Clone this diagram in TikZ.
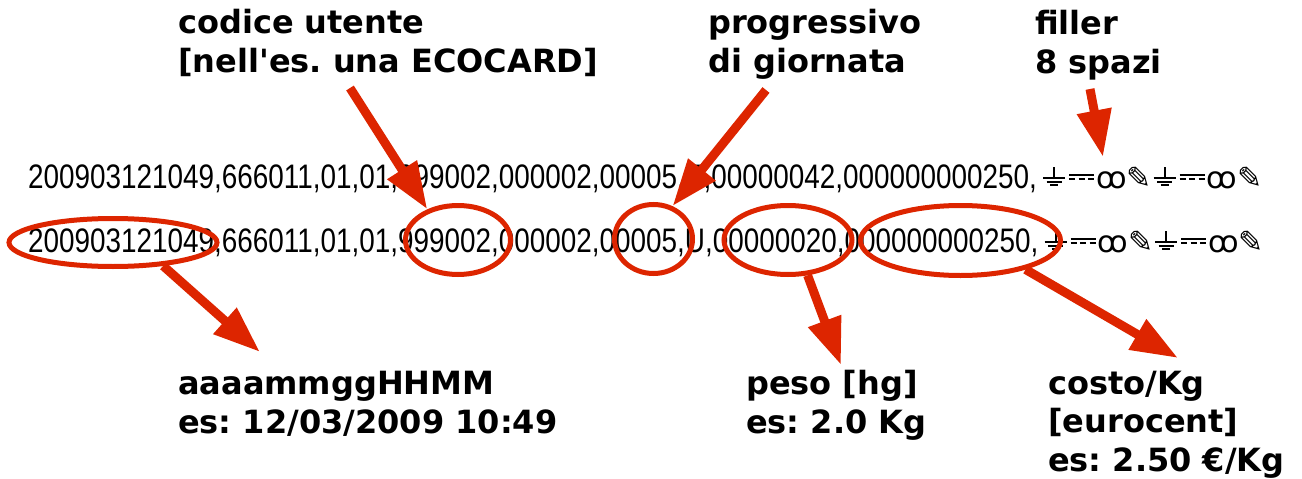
\documentclass[tikz,border=0pt]{standalone}
\usepackage{fontspec}
\setmainfont{DejaVu Sans}
\newfontfamily\datafont[FakeStretch=0.82]{Liberation Sans}
\newfontfamily\simboli{DejaVu Sans}
\usetikzlibrary{arrows.meta,shapes.geometric}
\definecolor{rosso}{RGB}{221,37,0}
% simboli del riempitivo senza glifo: disegnati con filetti
\newcommand{\terra}{\kern2pt\rlap{\kern10pt\rule[9pt]{2pt}{12pt}}\rlap{\rule[9pt]{22pt}{2pt}}\rlap{\kern3.5pt\rule[5.5pt]{15pt}{2pt}}\kern7pt\rule[2pt]{8pt}{2pt}\kern7pt}
\newcommand{\continua}{\kern4pt\rlap{\rule[12pt]{25pt}{2pt}}\rule[8pt]{6pt}{2pt}\kern3.5pt\rule[8pt]{6pt}{2pt}\kern3.5pt\rule[8pt]{6pt}{2pt}\kern2pt}
\newcommand{\gruppo}{\terra\continua{\simboli\fontsize{30}{34}\selectfont ꝏ}{\simboli\fontsize{30}{34}\selectfont ✎}}
\newcommand{\riempi}{\kern4pt\gruppo\gruppo}
\tikzset{
  record/.style={anchor=base west,inner sep=0pt,font=\datafont\fontsize{34}{40}\selectfont},
  didascalia/.style={anchor=base west,inner sep=0pt,align=left,font=\bfseries\frenchspacing\fontsize{32}{38.5}\selectfont},
  cerchio/.style={ellipse,draw=rosso,line width=5pt,inner sep=0pt},
  freccia/.style={draw=rosso,line width=9pt,-{Triangle[length=47pt,width=33pt]}}
}
\begin{document}
\begin{tikzpicture}[x=1pt,y=-1pt]
\useasboundingbox (0,0) rectangle (1302,479);
% righe del file
\node[record] (riga1) at (28,188) {200903121049,666011,01,01,999002,000002,00005,E,00000042,000000000250,\riempi};
\node[record] (riga2) at (28,252) {200903121049,666011,01,01,999002,000002,00005,U,00000020,000000000250,\riempi};
% campi cerchiati
\node[cerchio,minimum width=208pt,minimum height=48pt] (eData) at (113,242.5) {};
\node[cerchio,minimum width=105pt,minimum height=69pt] (eUtente) at (458,240) {};
\node[cerchio,minimum width=78pt,minimum height=69pt] (eProg) at (653.5,239) {};
\node[cerchio,minimum width=128pt,minimum height=69pt] (ePeso) at (788,240) {};
\node[cerchio,minimum width=200pt,minimum height=70pt] (eCosto) at (960.5,240.5) {};
% didascalie (base = ultima riga)
\node[didascalia] (lUtente) at (178,72) {codice utente\\{}[nell\textquotesingle es. una ECOCARD]};
\node[didascalia] (lProg) at (708,72) {progressivo\\di giornata};
\node[didascalia] (lFiller) at (1035,73) {filler\\8 spazi};
\node[didascalia] (lData) at (178,433) {aaaammggHHMM\\es: 12/03/2009 10:49};
\node[didascalia] (lPeso) at (746,433) {peso [hg]\\es: 2.0 Kg};
\node[didascalia] (lCosto) at (1048,471) {costo/Kg\\{}[eurocent]\\es: 2.50 €/Kg};
\coordinate (filler) at (1103,157);
% frecce
\draw[freccia] ([shift={(172pt,-16pt)}]lUtente.base west) -- (eUtente.135);
\draw[freccia] ([shift={(58pt,-18pt)}]lProg.base west) -- (eProg.60);
\draw[freccia] ([shift={(55pt,-16pt)}]lFiller.base west) -- (filler);
\draw[freccia] (eData.-25) -- ([shift={(82pt,81pt)}]lData.base west);
\draw[freccia] (ePeso.-61) -- ([shift={(95pt,68pt)}]lPeso.base west);
\draw[freccia] (eCosto.-24) -- ([shift={(130pt,113pt)}]lCosto.base west);
\end{tikzpicture}
\end{document}
